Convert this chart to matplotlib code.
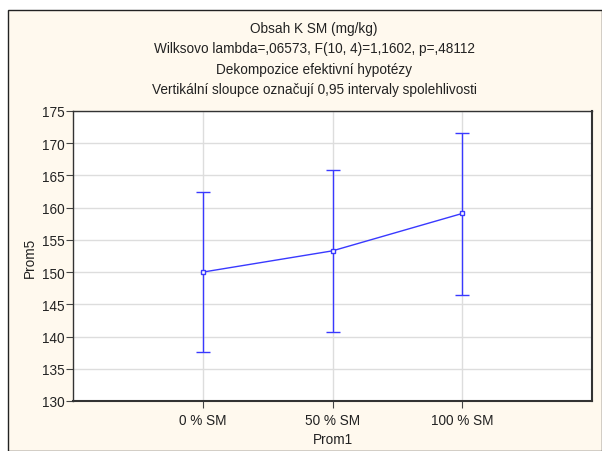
import matplotlib
matplotlib.use("Agg")
import matplotlib.pyplot as plt
from matplotlib.patches import Rectangle

categories = ["0 % SM", "50 % SM", "100 % SM"]
means = [150.0, 153.3, 159.1]
upper = [162.5, 165.8, 171.6]
lower = [137.6, 140.7, 146.5]
yticks = [130, 135, 140, 145, 150, 155, 160, 165, 170, 175]
title_lines = ["Obsah K SM (mg/kg)",
               "Wilksovo lambda=,06573, F(10, 4)=1,1602, p=,48112",
               "Dekompozice efektivní hypotézy",
               "Vertikální sloupce označují 0,95 intervaly spolehlivosti"]

plt.rcParams['font.family'] = ['Liberation Sans', 'DejaVu Sans']
FS = 9.8
W, H = 602, 452
fig = plt.figure(figsize=(W/100, H/100), dpi=100)
fig.patch.set_facecolor("white")

bg = fig.add_axes([0, 0, 1, 1], zorder=-5)
bg.set_xlim(0, W)
bg.set_ylim(H, 0)
bg.axis("off")
bg.add_patch(Rectangle((8, 11), W - 8, H - 11, facecolor="#FFF9EE",
                       edgecolor="#222222", linewidth=1.0))

ax = fig.add_axes([73/W, 1-402/H, (592-73)/W, (402-112)/H], zorder=2)
ax.set_facecolor("white")
x = list(range(len(categories)))
yerr_lo = [m - l for m, l in zip(means, lower)]
yerr_hi = [u - m for m, u in zip(means, upper)]
ax.errorbar(x, means, yerr=[yerr_lo, yerr_hi], color="#3939FF", linewidth=1.0,
            elinewidth=1.0, capsize=5, capthick=1.0, marker="s", markersize=3.5,
            markerfacecolor="white", markeredgecolor="#3939FF", zorder=3)
ax.set_xlim(-1, 3)
ax.set_ylim(130, 175)
ax.set_xticks(x)
ax.set_xticklabels(categories)
ax.set_yticks(yticks)
ax.grid(True, color="#DDDDDD", linewidth=1.0, zorder=0)
ax.set_axisbelow(True)
ax.tick_params(axis="both", labelsize=FS, length=5, color="#444444", labelcolor="#222222")
ax.tick_params(axis="y", pad=1)
for s in ax.spines.values():
    s.set_color("#333333")
    s.set_linewidth(1.0)
ax.spines["right"].set_linewidth(1.5)
ax.spines["bottom"].set_linewidth(1.5)
ax.set_xlabel("Prom1", fontsize=FS, color="#222222", labelpad=4)

fig.text(30/W, 1-258/H, "Prom5", rotation=90, ha="center", va="center",
         fontsize=FS, color="#222222")

ys = [29, 49, 70, 90]
for t, yy in zip(title_lines, ys):
    fig.text(314/W, 1-yy/H, t, ha="center", va="center", fontsize=FS, color="#222222")

fig.savefig("out.png", dpi=100, facecolor=fig.get_facecolor())
